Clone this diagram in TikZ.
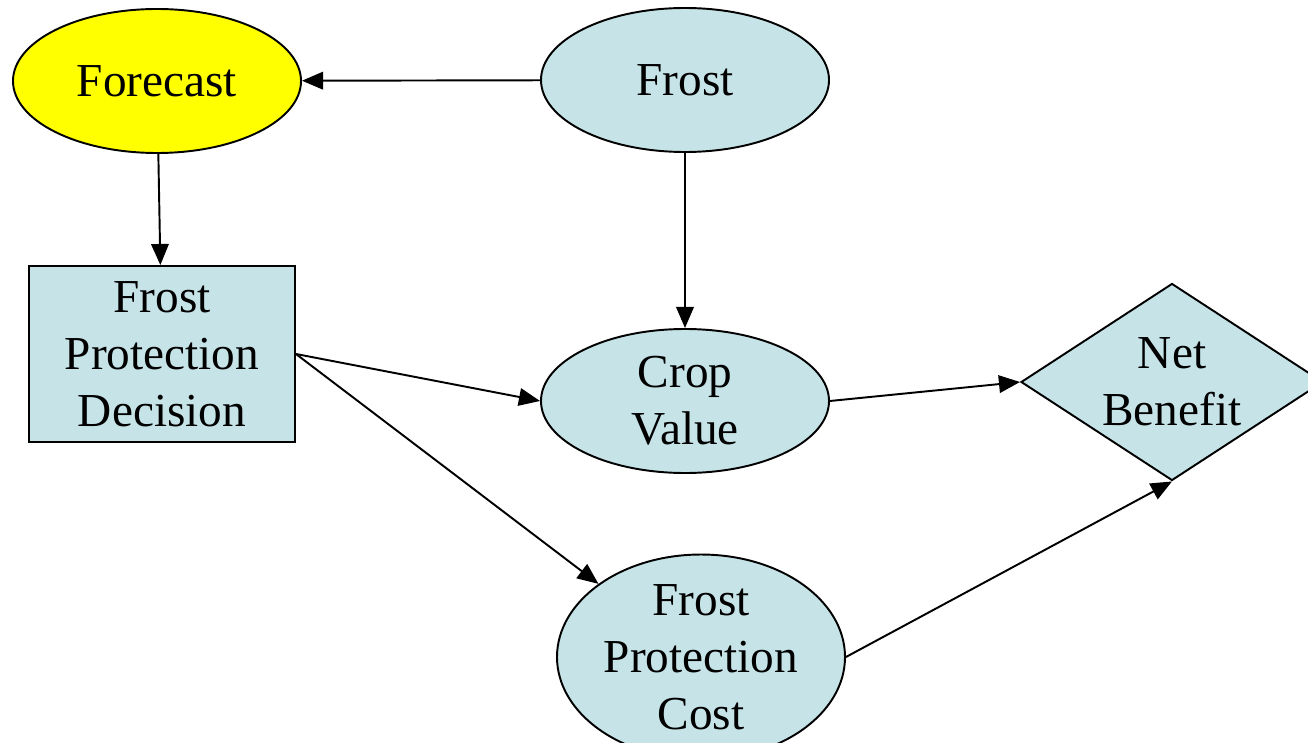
\documentclass[tikz,border=0pt]{standalone}
\usepackage{fontspec}
\setmainfont{Liberation Serif}
\usetikzlibrary{shapes.geometric,arrows.meta}
\definecolor{nodeblue}{HTML}{C6E4E8}
\definecolor{fcyellow}{HTML}{FFFF00}

\begin{document}
\begin{tikzpicture}[scale=0.2]
\tikzstyle{every node}+=[inner sep=0pt, align=center, font=\fontsize{26.9}{32.3}\selectfont]
\tikzstyle{chance}=[draw, line width=1.1pt, ellipse, fill=nodeblue, minimum width=5.76cm, minimum height=2.88cm]
\tikzstyle{decision}=[draw, line width=1.1pt, rectangle, fill=nodeblue, minimum width=5.32cm, minimum height=3.52cm]
\tikzstyle{value}=[draw, line width=1.1pt, diamond, aspect=1.53, fill=nodeblue, minimum width=6.04cm, minimum height=3.94cm]
\tikzstyle{link}=[line width=1.1pt, -{Triangle[length=12pt,width=10pt]}]
\useasboundingbox (0,0) rectangle (130.8,-74.3);
\node [chance, fill=fcyellow] (forecast) at (15.7,-8.1) {Forecast};
\node [chance] (frost) at (68.5,-8.0) {Frost};
\node [decision] (protect) at (16.2,-35.4) {Frost\\Protection\\Decision};
\node [chance] (crop) at (68.5,-40.1) {Crop\\Value};
\node [value] (net) at (117.2,-38.2) {Net\\Benefit};
\node [chance, minimum height=3.52cm] (cost) at (70.1,-65.7) {Frost\\Protection\\Cost};
\draw [link] (frost) -- (forecast);
\draw [link] (forecast) -- (protect);
\draw [link] (frost) -- (crop);
\draw [link] (protect.east) -- (crop.west);
\draw [link] (protect.east) -- (cost.north west);
\draw [link] (crop.east) -- (net.west);
\draw [link] (cost.east) -- (net.south);
\end{tikzpicture}
\end{document}
